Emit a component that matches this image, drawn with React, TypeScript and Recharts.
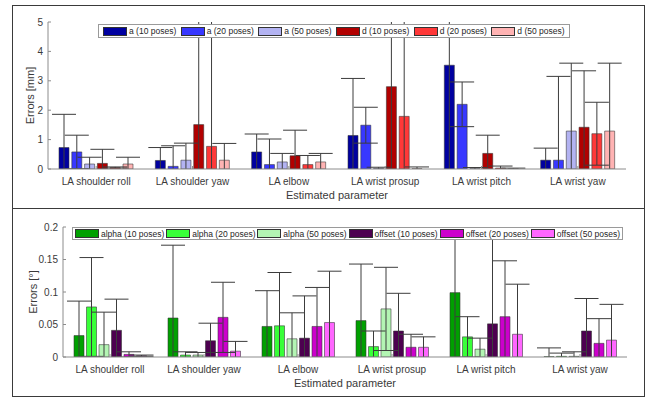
import { BarChart, Bar, XAxis, YAxis, ErrorBar, Legend } from "recharts";

const categories = ["LA shoulder roll", "LA shoulder yaw", "LA elbow", "LA wrist prosup", "LA wrist pitch", "LA wrist yaw"];

// top panel, errors in mm (bar = mean, err = half length of whisker)
const a10 = [0.73, 0.29, 0.58, 1.14, 3.53, 0.3];
const a20 = [0.58, 0.09, 0.15, 1.49, 2.2, 0.3];
const a50 = [0.17, 0.3, 0.24, 0.02, 0.01, 1.29];
const d10 = [0.19, 1.51, 0.45, 2.8, 0.53, 1.42];
const d20 = [0.05, 0.77, 0.15, 1.79, 0.03, 1.2];
const d50 = [0.17, 0.3, 0.24, 0.01, 0.01, 1.29];
const a10Err = [1.13, 0.44, 0.61, 1.94, 3.8, 0.41];
const a20Err = [0.57, 0.7, 0.87, 0.61, 0.76, 2.85];
const a50Err = [0.23, 0.58, 0.29, 0.04, 0.04, 2.31];
const d10Err = [0.48, 3.9, 0.87, 3.0, 0.62, 1.92];
const d20Err = [0.02, 4.5, 0.31, 3.4, 0.07, 1.07];
const d50Err = [0.23, 0.57, 0.29, 0.06, 0.02, 2.31];
const mmTicks = [0, 1, 2, 3, 4, 5];

// bottom panel, errors in degrees
const alpha10 = [0.033, 0.06, 0.047, 0.056, 0.099, 0.0005];
const alpha20 = [0.077, 0.003, 0.048, 0.016, 0.031, 0.001];
const alpha50 = [0.019, 0.003, 0.028, 0.074, 0.012, 0.001];
const off10 = [0.041, 0.025, 0.029, 0.04, 0.051, 0.04];
const off20 = [0.004, 0.061, 0.047, 0.015, 0.062, 0.021];
const off50 = [0.002, 0.009, 0.053, 0.015, 0.035, 0.026];
const alpha10Err = [0.053, 0.112, 0.055, 0.087, 0.12, 0.0135];
const alpha20Err = [0.076, 0.005, 0.082, 0.024, 0.031, 0.005];
const alpha50Err = [0.05, 0.004, 0.04, 0.064, 0.017, 0.007];
const off10Err = [0.048, 0.027, 0.065, 0.058, 0.16, 0.05];
const off20Err = [0.004, 0.054, 0.06, 0.02, 0.086, 0.038];
const off50Err = [0.001, 0.015, 0.079, 0.016, 0.077, 0.055];
const degTicks = [0, 0.05, 0.1, 0.15, 0.2];

const topSeries = [
  { key: "a10", name: "a (10 poses)", color: "#0000a0", mean: a10, err: a10Err },
  { key: "a20", name: "a (20 poses)", color: "#3838ff", mean: a20, err: a20Err },
  { key: "a50", name: "a (50 poses)", color: "#b3b3f2", mean: a50, err: a50Err },
  { key: "d10", name: "d (10 poses)", color: "#b20000", mean: d10, err: d10Err },
  { key: "d20", name: "d (20 poses)", color: "#ff3838", mean: d20, err: d20Err },
  { key: "d50", name: "d (50 poses)", color: "#ffb3b3", mean: d50, err: d50Err },
];

const bottomSeries = [
  { key: "al10", name: "alpha (10 poses)", color: "#00a000", mean: alpha10, err: alpha10Err },
  { key: "al20", name: "alpha (20 poses)", color: "#38ff38", mean: alpha20, err: alpha20Err },
  { key: "al50", name: "alpha (50 poses)", color: "#b3f5b3", mean: alpha50, err: alpha50Err },
  { key: "of10", name: "offset (10 poses)", color: "#4d0050", mean: off10, err: off10Err },
  { key: "of20", name: "offset (20 poses)", color: "#cc00cc", mean: off20, err: off20Err },
  { key: "of50", name: "offset (50 poses)", color: "#ff66ff", mean: off50, err: off50Err },
];

function makeRows(series: typeof topSeries) {
  return categories.map((cat, i) => {
    const row: any = { cat };
    series.forEach((s) => {
      row[s.key] = s.mean[i];
      row[s.key + "Err"] = s.err[i];
    });
    return row;
  });
}

const FONT = "'Liberation Sans', Arial, sans-serif";
const TXT = "#3a3a3a";
const AXIS = "#8c8c8c";
const W = 654;
const XH = 34;

function LegendBox({ payload, itemWidth, pad }: any) {
  return (
    <div style={{ width: "100%", height: "100%", boxSizing: "border-box", background: "#fff", border: "1px solid #9a9a9a",
      display: "flex", alignItems: "center", paddingLeft: pad, fontFamily: FONT, fontSize: 8.5, color: "#262626" }}>
      {(payload || []).map((p: any) => (
        <div key={p.value} style={{ width: itemWidth, display: "flex", alignItems: "center", whiteSpace: "nowrap" }}>
          <span style={{ width: 24, height: 9, boxSizing: "border-box", background: p.color, border: "1px solid #333", marginRight: 2, flexShrink: 0 }} />
          <span>{p.value}</span>
        </div>
      ))}
    </div>
  );
}

function Panel({ id, series, ticks, max, unit, top, height, margin, yWidth, labelOffset, barGap, legend, itemWidth, pad }: any) {
  const rows = makeRows(series);
  // whiskers are clipped to the plot box, like the original
  const px = margin.left + yWidth;
  const pw = W - px - margin.right;
  const ph = height - margin.top - margin.bottom - XH;
  return (
    <div className={id} style={{ position: "absolute", left: 0, top }}>
      <style>{`.${id} .recharts-errorBars { clip-path: url(#clip-${id}); }`}</style>
      <svg width={0} height={0} style={{ position: "absolute" }}>
        <defs>
          <clipPath id={`clip-${id}`}>
            <rect x={px} y={margin.top} width={pw} height={ph} />
          </clipPath>
        </defs>
      </svg>
      <BarChart width={W} height={height} data={rows} margin={margin} barGap={barGap} style={{ fontFamily: FONT }}>
        <XAxis dataKey="cat" tick={{ fontSize: 10, fill: TXT }} tickSize={-3} tickMargin={12} height={XH}
          stroke={AXIS} interval={0}
          label={{ value: "Estimated parameter", position: "insideBottom", offset: 4, fontSize: 11, fill: TXT }} />
        <XAxis xAxisId="t" dataKey="cat" orientation="top" height={0} tickSize={-3} tickFormatter={() => ""} stroke={AXIS} />
        <YAxis domain={[0, max]} ticks={ticks} allowDataOverflow width={yWidth} tickSize={-3} tickMargin={8}
          tick={{ fontSize: 10, fill: TXT }} stroke={AXIS}
          label={{ value: unit, angle: -90, position: "insideLeft", offset: labelOffset, fontSize: 11, fill: TXT, style: { textAnchor: "middle" } }} />
        <YAxis yAxisId="r" orientation="right" domain={[0, max]} ticks={ticks} width={0} tickSize={-3}
          tickFormatter={() => ""} stroke={AXIS} />
        {series.map((s: any) => (
          <Bar key={s.key} dataKey={s.key} name={s.name} fill={s.color} stroke="#333" strokeOpacity={0.7} strokeWidth={0.8}
            barSize={10} isAnimationActive={false}>
            <ErrorBar dataKey={s.key + "Err"} width={12} stroke="#3c3c3c" strokeWidth={1} isAnimationActive={false} />
          </Bar>
        ))}
        <Legend layout="horizontal" verticalAlign="middle" align="center" wrapperStyle={legend}
          content={(p: any) => <LegendBox payload={p.payload} itemWidth={itemWidth} pad={pad} />} />
      </BarChart>
    </div>
  );
}

export default function App() {
  return (
    <div style={{ position: "absolute", left: 0, top: 0, width: W, height: 397, background: "#fff" }}>
      <div style={{ position: "absolute", left: 12, top: 5, width: 633, height: 204, boxSizing: "border-box", border: "1.5px solid #3a3a3a" }} />
      <div style={{ position: "absolute", left: 12, top: 208, width: 633, height: 189, boxSizing: "border-box", border: "1.5px solid #3a3a3a" }} />
      <Panel id="pmm" series={topSeries} ticks={mmTicks} max={5} unit="Errors [mm]" top={0} height={208}
        margin={{ top: 22, right: 28, bottom: 5, left: 18 }} yWidth={30} labelOffset={12} barGap={2.8}
        legend={{ left: 98, top: 24, width: 472, height: 14 }} itemWidth={78.3} pad={4} />
      <Panel id="pdeg" series={bottomSeries} ticks={degTicks} max={0.2} unit="Errors [°]" top={209} height={188}
        margin={{ top: 18, right: 27, bottom: 6, left: 23 }} yWidth={40} labelOffset={10} barGap={2.5}
        legend={{ left: 72, top: 18, width: 551, height: 13 }} itemWidth={91.8} pad={2} />
    </div>
  );
}
